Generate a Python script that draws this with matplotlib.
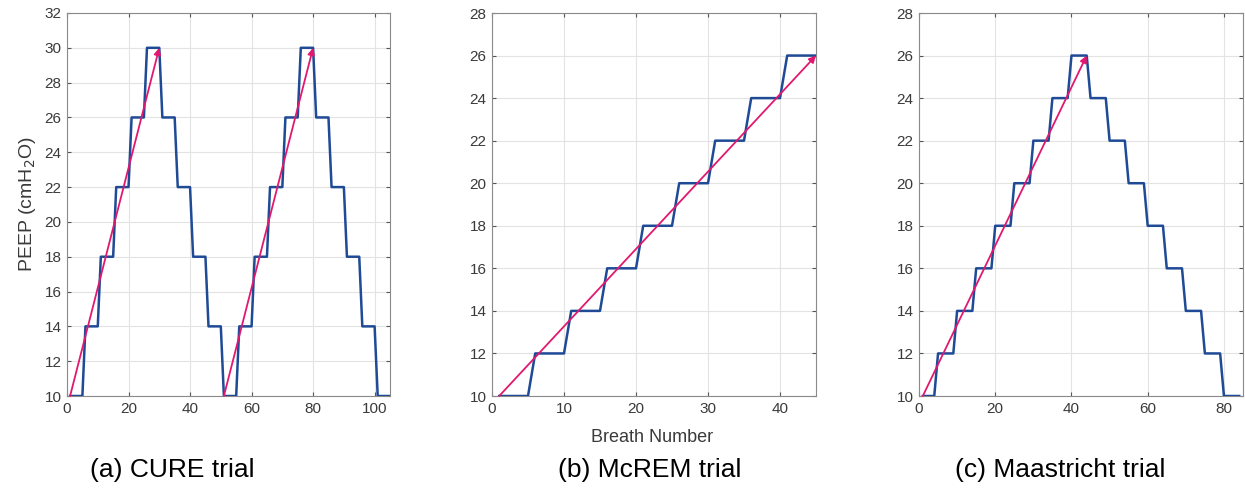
import numpy as np
import matplotlib.pyplot as plt

plt.rcParams['font.family'] = ['Liberation Sans', 'DejaVu Sans']

# PEEP level per block of 5 breaths
cure_levels = [10, 14, 18, 22, 26, 30, 26, 22, 18, 14, 10, 14, 18, 22, 26, 30, 26, 22, 18, 14, 10]
mcrem_levels = [10, 12, 14, 16, 18, 20, 22, 24, 26]
maas_levels = [10, 12, 14, 16, 18, 20, 22, 24, 26, 24, 22, 20, 18, 16, 14, 12, 10]
maas_first_block = 4  # first step in Maastricht lasts 4 breaths

# arrows: (start breath, start PEEP, end breath, end PEEP)
cure_arrows = [(1, 10, 30, 30), (51, 10, 80, 30)]
mcrem_arrows = [(1, 10, 45, 26)]
maas_arrows = [(1, 10, 44, 26)]

captions = ['(a) CURE trial', '(b) McREM trial', '(c) Maastricht trial']


def expand(levels, first=5):
    vals = []
    for i, lv in enumerate(levels):
        n = first if i == 0 else 5
        vals += [lv] * n
    breaths = np.arange(1, len(vals) + 1)
    return breaths, np.array(vals)


blue = '#1f4a96'
pink = '#e2186f'
txt = '#3a3a3a'

fig = plt.figure(figsize=(12.45, 4.88), dpi=100)
W, H = 1245, 488
boxes = [(67, 390), (492, 816), (919, 1243)]
top, bottom = 13, 396

series = [expand(cure_levels), expand(mcrem_levels), expand(maas_levels, maas_first_block)]
arrows = [cure_arrows, mcrem_arrows, maas_arrows]
xlims = [(0, 105), (0, 45), (0, 85)]
xticks = [np.arange(0, 101, 20), np.arange(0, 41, 10), np.arange(0, 81, 20)]
ylims = [(10, 32), (10, 28), (10, 28)]

axes = []
for k in range(3):
    l, r = boxes[k]
    ax = fig.add_axes([l / W, 1 - bottom / H, (r - l) / W, (bottom - top) / H])
    x, y = series[k]
    ax.plot(x, y, color=blue, lw=1.8, zorder=3)
    for (x0, y0, x1, y1) in arrows[k]:
        ax.annotate('', xy=(x1, y1), xytext=(x0, y0),
                    arrowprops=dict(arrowstyle='-|>', color=pink, lw=1.3,
                                    mutation_scale=10, shrinkA=0, shrinkB=0),
                    zorder=4)
    ax.set_xlim(*xlims[k])
    ax.set_ylim(*ylims[k])
    ax.set_xticks(xticks[k])
    ax.set_yticks(np.arange(ylims[k][0], ylims[k][1] + 1, 2))
    ax.grid(True, color='#e3e3e3', lw=0.8)
    ax.set_axisbelow(True)
    ax.tick_params(direction='in', length=3, top=True, right=True, pad=4,
                   labelsize=11, colors='#555555', labelcolor=txt)
    for s in ax.spines.values():
        s.set_color('#8a8a8a')
        s.set_linewidth(0.8)
    axes.append(ax)

axes[0].set_ylabel('PEEP (cmH$_2$O)', fontsize=14, color=txt, labelpad=5)
fig.text(652 / W, 1 - 437 / H, 'Breath Number', ha='center', va='center',
         fontsize=13, color=txt)

cap_x = [172, 650, 1060]
for cx, c in zip(cap_x, captions):
    fig.text(cx / W, 1 - 470 / H, c, ha='center', va='center', fontsize=19, color='black')

fig.savefig('out.png', dpi=100)
